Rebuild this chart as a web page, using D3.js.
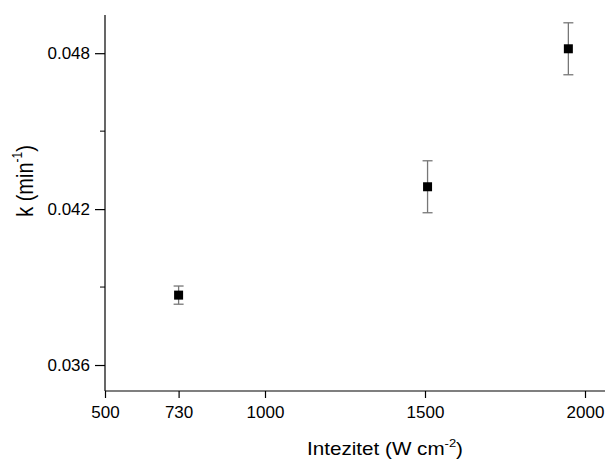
<!DOCTYPE html>
<html>
<head>
<meta charset="utf-8">
<script src="https://cdn.jsdelivr.net/npm/d3@7"></script>
<style>
  body { margin: 0; background: #fff; }
  svg { font-family: "Liberation Sans", Arial, sans-serif; }
</style>
</head>
<body>
<svg id="chart" width="608" height="459"></svg>
<script>
// data
var intensity = [730, 1508, 1948];
var kValues = [0.03869, 0.04286, 0.04817];
var kErrors = [0.00035, 0.001, 0.001];
var xTicks = [500, 730, 1000, 1500, 2000];
var yTicks = [0.036, 0.042, 0.048];
var yMinor = [0.039, 0.045];

var svg = d3.select('#chart');
var rect = { x: 105, y: 15, w: 500, h: 376 };

var x = d3.scaleLinear().domain([500, 2062.5]).range([rect.x, rect.x + rect.w]);
var y = d3.scaleLinear().domain([0.035, 0.04947]).range([rect.y + rect.h, rect.y]);

var g = svg.append('g');

// x axis
var xAxis = d3.axisBottom(x).tickValues(xTicks).tickSize(7).tickPadding(8)
    .tickFormat(d3.format('d'));
var gx = g.append('g')
    .attr('transform', 'translate(0,' + (rect.y + rect.h) + ')')
    .call(xAxis);
gx.select('.domain').attr('d', 'M' + rect.x + ',0H' + (rect.x + rect.w));

// y axis
var yAxis = d3.axisLeft(y).tickValues(yTicks).tickSize(10).tickPadding(5)
    .tickFormat(d3.format('.3f'));
var gy = g.append('g')
    .attr('transform', 'translate(' + rect.x + ',0)')
    .call(yAxis);
gy.select('.domain').attr('d', 'M0,' + rect.y + 'V' + (rect.y + rect.h));
gy.selectAll('.minor')
    .data(yMinor)
  .enter().append('line')
    .attr('class', 'minor')
    .attr('x1', -5).attr('x2', 0)
    .attr('y1', function (d) { return y(d); })
    .attr('y2', function (d) { return y(d); })
    .attr('stroke', '#000');

g.selectAll('.tick text').attr('font-size', 17).attr('fill', '#000');
g.selectAll('.domain, .tick line').attr('stroke', '#000').attr('stroke-width', 1.2);

// points
var pts = intensity.map(function (v, i) {
    return { x: v, y: kValues[i], e: kErrors[i] };
});

var bars = g.selectAll('.err')
    .data(pts)
  .enter().append('g')
    .attr('class', 'err')
    .attr('stroke', '#777')
    .attr('stroke-width', 1.3);

bars.append('line')
    .attr('x1', function (d) { return x(d.x); })
    .attr('x2', function (d) { return x(d.x); })
    .attr('y1', function (d) { return y(d.y + d.e); })
    .attr('y2', function (d) { return y(d.y - d.e); });

[1, -1].forEach(function (s) {
    bars.append('line')
        .attr('x1', function (d) { return x(d.x) - 5; })
        .attr('x2', function (d) { return x(d.x) + 5; })
        .attr('y1', function (d) { return y(d.y + s * d.e); })
        .attr('y2', function (d) { return y(d.y + s * d.e); });
});

g.selectAll('.pt')
    .data(pts)
  .enter().append('rect')
    .attr('class', 'pt')
    .attr('x', function (d) { return x(d.x) - 4.5; })
    .attr('y', function (d) { return y(d.y) - 4.5; })
    .attr('width', 9)
    .attr('height', 9)
    .attr('fill', '#000');

// axis titles (the picture is a little stretched sideways)
var xt = svg.append('text')
    .attr('transform', 'translate(385,455) scale(1.18,1)')
    .attr('text-anchor', 'middle')
    .attr('font-size', 17.5).attr('fill', '#000');
xt.append('tspan').text('Intezitet (W cm');
xt.append('tspan').attr('font-size', 11).attr('dy', -8).text('-2');
xt.append('tspan').attr('dy', 8).text(')');

var yt = svg.append('text')
    .attr('transform', 'translate(33,181) scale(1.18,1) rotate(-90)')
    .attr('text-anchor', 'middle')
    .attr('font-size', 20).attr('fill', '#000');
yt.append('tspan').text('k (min');
yt.append('tspan').attr('font-size', 12).attr('dy', -9).text('-1');
yt.append('tspan').attr('dy', 9).text(')');
</script>
</body>
</html>
